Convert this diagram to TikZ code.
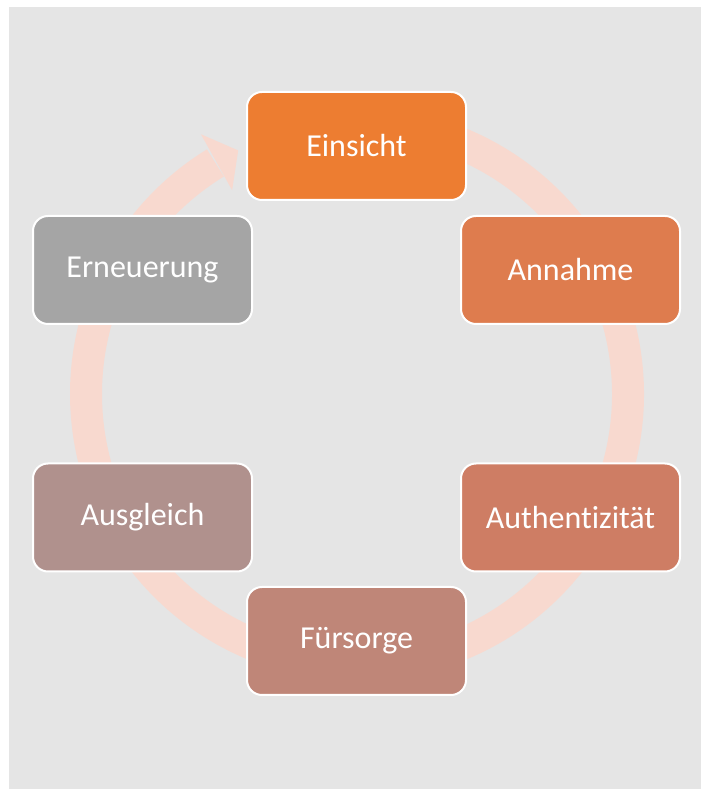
\documentclass[tikz,border=0pt]{standalone}
\usepackage{fontspec}
\setmainfont{Carlito}[Ligatures=NoCommon]
\definecolor{bggray}{HTML}{E5E5E5}
\definecolor{ringc}{HTML}{F8D9CF}
\definecolor{c1}{HTML}{ED7D31}
\definecolor{c2}{HTML}{DE7C4E}
\definecolor{c3}{HTML}{CE7D64}
\definecolor{c4}{HTML}{BF8678}
\definecolor{c5}{HTML}{B0918D}
\definecolor{c6}{HTML}{A5A5A5}
\begin{document}
\begin{tikzpicture}[x=1pt,y=1pt,
  stagebox/.style={draw=white, line width=2pt, rounded corners=15pt,
    minimum width=219pt, minimum height=108pt, inner sep=0pt,
    text=white, font=\fontsize{32}{38}\selectfont}]
\useasboundingbox (0,0) rectangle (701,790);
\fill[white] (0,0) rectangle (701,790);
\fill[bggray] (9,1) rectangle (701,783);
\coordinate (C) at (357,396);
% ring
\draw[ringc, line width=32pt] ([shift={(95:271)}]C) arc[start angle=95, end angle=-238.5, radius=271];
\fill[ringc] ([shift={(121:303)}]C) -- ([shift={(116:271)}]C) -- ([shift={(121.5:239)}]C) -- cycle;
% boxes
\node[stagebox, fill=c1] (n1) at (356.5,644) {Einsicht};
\node[stagebox, fill=c2] (n2) at (570.5,520) {Annahme};
\node[stagebox, fill=c3] (n3) at (570.5,272.5) {Authentizität};
\node[stagebox, fill=c4] (n4) at (356.5,149) {Fürsorge};
\node[stagebox, fill=c5] (n5) at (142.5,272.5) {Ausgleich};
\node[stagebox, fill=c6] (n6) at (142.5,520) {Erneuerung};
\end{tikzpicture}
\end{document}
